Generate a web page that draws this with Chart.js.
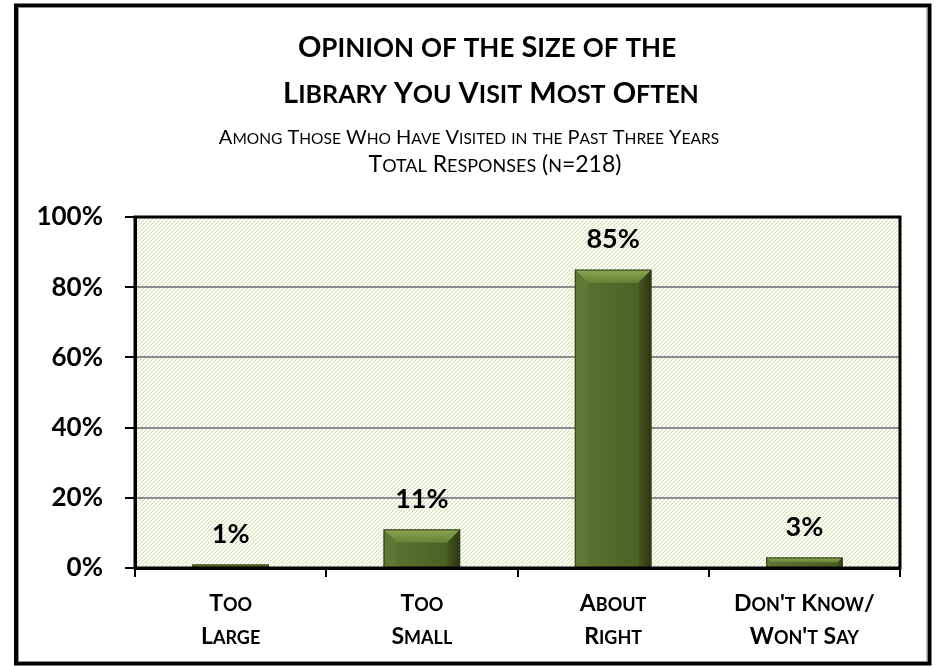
<!DOCTYPE html>
<html>
<head>
<meta charset="utf-8">
<script src="https://cdn.jsdelivr.net/npm/chart.js@4.4.1/dist/chart.umd.min.js"></script>
<style>
  html, body { margin: 0; padding: 0; background: #fff; }
  #wrap { width: 938px; height: 666px; }
</style>
</head>
<body>
<div id="wrap"><canvas id="chart" width="938" height="666"></canvas></div>
<script>
// --- data ---
const titleLines = ["Opinion of the Size of the", "Library You Visit Most Often"];
const subtitleLines = ["Among Those Who Have Visited in the Past Three Years", "Total Responses (n=218)"];
const categories = [["Too", "Large"], ["Too", "Small"], ["About", "Right"], ["Don't Know/", "Won't Say"]];
const values = [1, 11, 85, 3];
const yTicks = [0, 20, 40, 60, 80, 100];

const FONT = "Lato, 'Open Sans', sans-serif";

// draw text with small caps: lowercase letters become smaller capitals
function drawSmallCaps(ctx, text, cx, baseline, size, weight, smallSize) {
  const runs = [];
  for (const ch of text) {
    const small = ch !== ch.toUpperCase();
    const s = small ? smallSize : size;
    const c = ch.toUpperCase();
    if (runs.length && runs[runs.length - 1].s === s) runs[runs.length - 1].t += c;
    else runs.push({ t: c, s: s });
  }
  let total = 0;
  runs.forEach(r => {
    ctx.font = weight + " " + r.s + "px " + FONT;
    r.w = ctx.measureText(r.t).width;
    total += r.w;
  });
  let x = cx - total / 2;
  ctx.textAlign = "left";
  ctx.textBaseline = "alphabetic";
  runs.forEach(r => {
    ctx.font = weight + " " + r.s + "px " + FONT;
    ctx.fillText(r.t, x, baseline);
    x += r.w;
  });
}

// hatch pattern for the plot area
function makeHatch(ctx) {
  const pc = document.createElement("canvas");
  pc.width = 8; pc.height = 8;
  const p = pc.getContext("2d");
  p.fillStyle = "#ffffff";
  p.fillRect(0, 0, 8, 8);
  for (let x = 0; x < 8; x++) {
    for (let y = 0; y < 8; y++) {
      const k = (x + y) % 4;
      if (k === 3) { p.fillStyle = "#d2e2b3"; p.fillRect(x, y, 1, 1); }
      if (k === 2) { p.fillStyle = "#eaf2dd"; p.fillRect(x, y, 1, 1); }
    }
  }
  return ctx.createPattern(pc, "repeat");
}

const decor = {
  id: "decor",
  beforeDraw(chart) {
    const { ctx, chartArea: a } = chart;
    ctx.save();
    ctx.fillStyle = "#fff";
    ctx.fillRect(0, 0, chart.width, chart.height);
    ctx.fillStyle = makeHatch(ctx);
    ctx.fillRect(a.left, a.top, a.right - a.left, a.bottom - a.top);

    // titles
    ctx.fillStyle = "#000";
    drawSmallCaps(ctx, titleLines[0], 487, 57, 29, "bold", 26);
    drawSmallCaps(ctx, titleLines[1], 491, 103, 29, "bold", 25);
    drawSmallCaps(ctx, subtitleLines[0], 469, 144, 20, "normal", 15.5);
    drawSmallCaps(ctx, subtitleLines[1], 495, 172, 23, "normal", 18);
    ctx.restore();
  },
  afterDatasetsDraw(chart) {
    const { ctx, chartArea: a } = chart;
    const meta = chart.getDatasetMeta(0);
    ctx.save();
    // bevel shading on the bars
    meta.data.forEach(el => {
      const { x, y, base, width } = el.getProps(["x", "y", "base", "width"], true);
      const l = x - width / 2, r = x + width / 2, h = base - y;
      const b = Math.min(13, h / 2, width / 2);
      const g = ctx.createLinearGradient(l, 0, r, 0);
      g.addColorStop(0, "#5c7532");
      g.addColorStop(0.5, "#52692a");
      g.addColorStop(1, "#475c24");
      ctx.fillStyle = g;
      ctx.fillRect(l + b, y + b, width - 2 * b, h - b);
      // top
      const gt = ctx.createLinearGradient(0, y, 0, y + b);
      gt.addColorStop(0, "#8ba653");
      gt.addColorStop(1, "#678237");
      ctx.fillStyle = gt;
      ctx.beginPath();
      ctx.moveTo(l, y); ctx.lineTo(r, y); ctx.lineTo(r - b, y + b); ctx.lineTo(l + b, y + b);
      ctx.closePath(); ctx.fill();
      // left
      ctx.fillStyle = "#5f7834";
      ctx.beginPath();
      ctx.moveTo(l, y); ctx.lineTo(l + b, y + b); ctx.lineTo(l + b, base); ctx.lineTo(l, base);
      ctx.closePath(); ctx.fill();
      // right
      const gr = ctx.createLinearGradient(r - b, 0, r, 0);
      gr.addColorStop(0, "#44571e");
      gr.addColorStop(1, "#2a3612");
      ctx.fillStyle = gr;
      ctx.beginPath();
      ctx.moveTo(r, y); ctx.lineTo(r - b, y + b); ctx.lineTo(r - b, base); ctx.lineTo(r, base);
      ctx.closePath(); ctx.fill();
      ctx.strokeStyle = "#34421a";
      ctx.lineWidth = 1;
      ctx.strokeRect(l + 0.5, y + 0.5, width - 1, h);
    });

    // plot border
    ctx.strokeStyle = "#000";
    ctx.lineWidth = 3;
    ctx.strokeRect(a.left, a.top, a.right - a.left, a.bottom - a.top);

    // value labels
    ctx.fillStyle = "#000";
    ctx.font = "bold 27px " + FONT;
    ctx.textAlign = "center";
    ctx.textBaseline = "middle";
    meta.data.forEach((el, i) => {
      ctx.fillText(values[i] + "%", el.x, el.y - 30);
    });

    // category labels
    const xs = chart.scales.x;
    categories.forEach((lines, i) => {
      const cx = xs.getPixelForTick(i);
      drawSmallCaps(ctx, lines[0], cx, 611, 23, "bold", 18);
      drawSmallCaps(ctx, lines[1], cx, 644, 23, "bold", 18);
    });
    ctx.restore();
  },
  afterDraw(chart) {
    const { ctx } = chart;
    ctx.save();
    ctx.strokeStyle = "#000";
    ctx.lineWidth = 4;
    ctx.strokeRect(16, 5.5, 913.5, 658);
    ctx.strokeStyle = "#8a8a8a";
    ctx.lineWidth = 1;
    ctx.strokeRect(18.5, 7.5, 908.5, 654);
    ctx.restore();
  }
};

const ctx = document.getElementById("chart").getContext("2d");
const chart = new Chart(ctx, {
  type: "bar",
  data: {
    labels: categories,
    datasets: [{
      data: values,
      backgroundColor: "#536a2b",
      borderWidth: 0,
      barPercentage: 0.4,
      categoryPercentage: 1.0
    }]
  },
  options: {
    responsive: false,
    animation: false,
    layout: { padding: { top: 217, right: 38, left: 0, bottom: 0 } },
    plugins: { legend: { display: false }, tooltip: { enabled: false }, title: { display: false } },
    scales: {
      x: {
        afterFit(scale) { scale.height = 98; },
        grid: { display: true, drawOnChartArea: false, tickLength: 9, tickColor: "#000", lineWidth: 2, offset: true },
        border: { display: true, color: "#000", width: 3 },
        ticks: { display: false }
      },
      y: {
        min: 0,
        max: 100,
        afterFit(scale) { scale.width = 135; },
        afterBuildTicks(scale) { scale.ticks = yTicks.map(v => ({ value: v })); },
        grid: { color: "#8c8c8c", lineWidth: 2, tickLength: 10, tickColor: "#000" },
        border: { display: true, color: "#000", width: 3 },
        ticks: {
          padding: 22,
          color: "#000",
          font: { family: FONT, size: 26, weight: "bold" },
          callback: v => v + "%"
        }
      }
    }
  },
  plugins: [decor]
});
</script>
</body>
</html>
